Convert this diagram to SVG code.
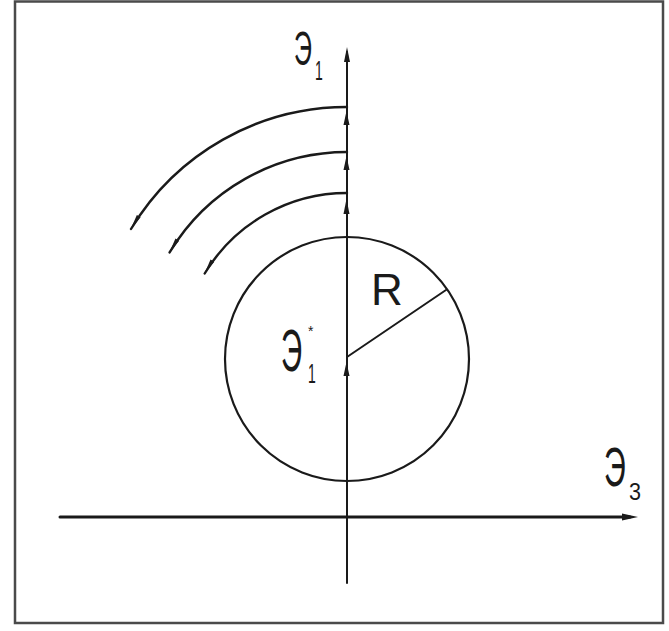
<svg xmlns="http://www.w3.org/2000/svg" width="669" height="631" viewBox="0 0 669 631">
<style>
.ln{fill:none;stroke:#1a1a1a;stroke-linecap:round}
.lbl{font-family:"Liberation Sans",Arial,sans-serif;fill:#1a1a1a}
.ah{fill:#1a1a1a}
</style>
<defs>
<marker id="arc-end" markerUnits="userSpaceOnUse" viewBox="0 0 16 6" refX="15" refY="3" markerWidth="16" markerHeight="6" orient="auto">
<path d="M0,0.8 L16,3 L0,5.2 z" fill="#1a1a1a"/>
</marker>
</defs>
<rect x="0" y="0" width="669" height="631" fill="#ffffff"/>
<rect id="frame" x="15" y="1.5" width="648" height="621.5" fill="none" stroke="#4a4a4a" stroke-width="2.5"/>

<g id="connectors">
<line class="ln" x1="347" y1="52" x2="347" y2="583" stroke-width="2"/>
<polygon class="ah" points="347,47 350,62 344,62"/>
<line class="ln" x1="60" y1="517" x2="630" y2="517" stroke-width="3"/>
<polygon class="ah" points="638,517 622,513.5 622,520.5"/>
<line class="ln" x1="347" y1="357" x2="446" y2="290" stroke-width="2"/>
<path class="ln" d="M347 107 A252 252 0 0 0 131 229" stroke-width="2.4" marker-end="url(#arc-end)"/>
<path class="ln" d="M347 152 A207 207 0 0 0 169.6 252.4" stroke-width="2.4" marker-end="url(#arc-end)"/>
<path class="ln" d="M347 193 A166 166 0 0 0 204.7 273.5" stroke-width="2.4" marker-end="url(#arc-end)"/>
<polygon class="ah" points="346.5,111 349.5,125 343.5,125"/>
<polygon class="ah" points="346.5,156 349.5,170 343.5,170"/>
<polygon class="ah" points="346.5,199 349.5,214 343.5,214"/>
<polygon class="ah" points="346.5,362 349.5,376 343.5,376"/>
</g>

<g id="circle">
<circle cx="347" cy="359" r="122" fill="none" stroke="#1a1a1a" stroke-width="2.2"/>
</g>

<g id="label-e1">
<text class="lbl" font-size="48" transform="matrix(0.52 0 0 1 294 65)">Э</text>
<text class="lbl" font-size="28" transform="matrix(0.5 0 0 1 315 80)">1</text>
</g>

<g id="label-e1star">
<text class="lbl" font-size="60" transform="matrix(0.49 0 0 1 281 371)">Э</text>
<text class="lbl" font-size="28" transform="matrix(0.5 0 0 1 308 383)">1</text>
<text class="lbl" font-size="14" x="308" y="336">*</text>
</g>

<g id="label-e3">
<text class="lbl" font-size="56" transform="matrix(0.54 0 0 1 604 486)">Э</text>
<text class="lbl" font-size="24" transform="matrix(0.9 0 0 1 629 500)">3</text>
</g>

<g id="label-r">
<text class="lbl" x="371" y="305" font-size="44">R</text>
</g>
</svg>
